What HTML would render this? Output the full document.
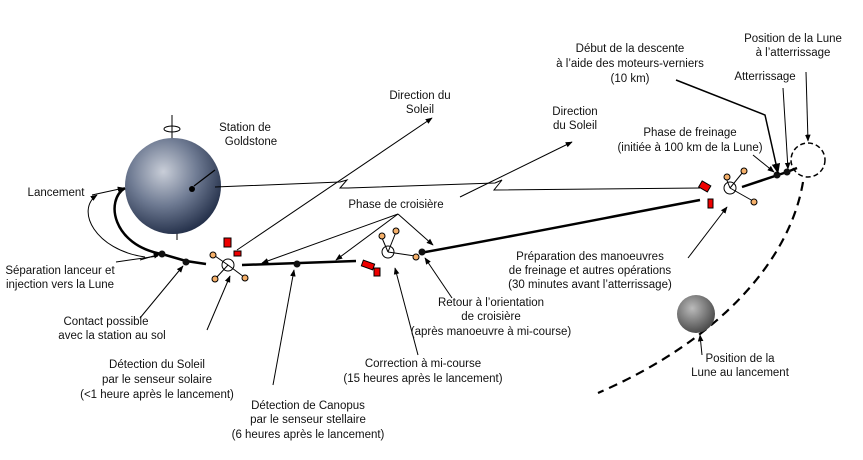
<!DOCTYPE html>
<html><head><meta charset="utf-8"><style>
body{margin:0;background:#fff;}
svg{display:block;font-family:"Liberation Sans",sans-serif;font-size:11.5px;fill:#111;}
text{text-anchor:middle;}
</style></head><body>
<svg width="863" height="460" viewBox="0 0 863 460" xmlns="http://www.w3.org/2000/svg">
<defs>
<marker id="a" viewBox="0 0 10 10" refX="9" refY="5" markerWidth="7" markerHeight="7" orient="auto"><path d="M0,1 L10,5 L0,9 z" fill="#000"/></marker>
<radialGradient id="e" cx="40%" cy="35%" r="70%"><stop offset="0" stop-color="#c9ced8"/><stop offset="0.5" stop-color="#6f7b93"/><stop offset="1" stop-color="#1e2a44"/></radialGradient>
<radialGradient id="m" cx="40%" cy="35%" r="70%"><stop offset="0" stop-color="#bbb"/><stop offset="1" stop-color="#444"/></radialGradient>
</defs>
<rect width="863" height="460" fill="#fff"/>
<line x1="172" y1="115" x2="172" y2="140" stroke="#000"/>
<line x1="177" y1="232" x2="177" y2="240" stroke="#000"/>
<ellipse cx="172" cy="129" rx="8" ry="3" fill="none" stroke="#000"/>
<circle cx="173" cy="186" r="48" fill="url(#e)"/>
<circle cx="192" cy="189" r="3" fill="#000"/>
<line x1="194" y1="186" x2="215" y2="170" stroke="#000" stroke-width="1.2"/>
<path d="M125,188 C105,200 112,245 162,254 L186,261 L206,264" fill="none" stroke="#000" stroke-width="2.5"/>
<path d="M242,265 L356,261" fill="none" stroke="#000" stroke-width="2.5"/>
<path d="M420,253 C520,235 620,215 700,200" fill="none" stroke="#000" stroke-width="2.5"/>
<path d="M742,187 L787,172 L797,168" fill="none" stroke="#000" stroke-width="2.5"/>
<circle cx="162" cy="254" r="3.5"/><circle cx="186" cy="262" r="3.5"/><circle cx="297" cy="264" r="3.5"/><circle cx="422" cy="252" r="3.5"/><circle cx="777" cy="175" r="3.5"/><circle cx="787" cy="172" r="3.5"/>
<path d="M92,195 L124,188" stroke="#000" fill="none" marker-end="url(#a)"/>
<path d="M145,257 C95,250 75,210 97,195" stroke="#000" fill="none" marker-end="url(#a)"/>
<path d="M140,260 L160,254" stroke="#000" fill="none" marker-end="url(#a)"/>
<path d="M215,187 L340,182 L347,180 L340,188 L348,188 L495,183 L502,180 L494,190 L700,188" fill="none" stroke="#000" stroke-width="1"/>
<circle cx="808" cy="160" r="17" fill="none" stroke="#000" stroke-width="1.5" stroke-dasharray="5,3"/>
<path d="M803,182 C790,260 720,340 598,393" fill="none" stroke="#000" stroke-width="2.2" stroke-dasharray="9,6"/>
<circle cx="696" cy="314" r="19" fill="url(#m)"/>
<line x1="237" y1="250" x2="432" y2="118" stroke="#000" marker-end="url(#a)"/>
<line x1="460" y1="197" x2="572" y2="142" stroke="#000" marker-end="url(#a)"/>
<line x1="398" y1="214" x2="262" y2="263" stroke="#000" marker-end="url(#a)"/>
<line x1="398" y1="214" x2="336" y2="260" stroke="#000" marker-end="url(#a)"/>
<line x1="398" y1="214" x2="433" y2="245" stroke="#000" marker-end="url(#a)"/>
<line x1="116" y1="262" x2="158" y2="256" stroke="#000"/>
<line x1="140" y1="318" x2="183" y2="266" stroke="#000" marker-end="url(#a)"/>
<line x1="207" y1="330" x2="230" y2="276" stroke="#000" marker-end="url(#a)"/>
<line x1="273" y1="385" x2="294" y2="270" stroke="#000" marker-end="url(#a)"/>
<line x1="418" y1="355" x2="395" y2="268" stroke="#000" marker-end="url(#a)"/>
<line x1="452" y1="298" x2="425" y2="258" stroke="#000" marker-end="url(#a)"/>
<line x1="688" y1="258" x2="727" y2="207" stroke="#000" marker-end="url(#a)"/>
<line x1="702" y1="355" x2="700" y2="335" stroke="#000" marker-end="url(#a)"/>
<path d="M676,80 L765,115 L778,173" fill="none" stroke="#000" stroke-width="1.5" marker-end="url(#a)"/>
<line x1="753" y1="155" x2="774" y2="172" stroke="#000" marker-end="url(#a)"/>
<line x1="783" y1="88" x2="788" y2="169" stroke="#000" marker-end="url(#a)"/>
<line x1="806" y1="72" x2="808" y2="141" stroke="#000" marker-end="url(#a)"/>
<g stroke="#000" stroke-width="1">
<rect x="224" y="238" width="7" height="9" fill="#e00"/><rect x="234" y="251" width="7" height="5" fill="#e00"/>
<circle cx="228" cy="265" r="6" fill="#fff"/>
<line x1="228" y1="265" x2="215" y2="256"/><line x1="228" y1="265" x2="244" y2="277"/><line x1="228" y1="265" x2="216" y2="278"/>
<circle cx="213" cy="255" r="3" fill="#f5b06a"/><circle cx="245" cy="278" r="3" fill="#f5b06a"/><circle cx="215" cy="279" r="3" fill="#f5b06a"/>
<rect x="362" y="262" width="12" height="6" fill="#e00" transform="rotate(20 368 265)"/><rect x="374" y="268" width="6" height="8" fill="#e00"/>
<circle cx="388" cy="252" r="6" fill="#fff"/>
<line x1="388" y1="252" x2="396" y2="232"/><line x1="388" y1="252" x2="415" y2="256"/><line x1="388" y1="252" x2="382" y2="238"/>
<circle cx="396" cy="231" r="3" fill="#f5b06a"/><circle cx="416" cy="257" r="3" fill="#f5b06a"/><circle cx="382" cy="236" r="3" fill="#f5b06a"/>
<rect x="700" y="183" width="10" height="7" fill="#e00" transform="rotate(30 705 186)"/><rect x="708" y="199" width="5" height="9" fill="#e00"/>
<circle cx="730" cy="188" r="6" fill="#fff"/>
<line x1="730" y1="188" x2="743" y2="172"/><line x1="730" y1="188" x2="753" y2="201"/><line x1="730" y1="188" x2="726" y2="178"/>
<circle cx="744" cy="171" r="3" fill="#f5b06a"/><circle cx="754" cy="202" r="3" fill="#f5b06a"/><circle cx="727" cy="177" r="3" fill="#f5b06a"/>
</g>
<text x="245" y="131">Station de</text><text x="251" y="145">Goldstone</text>
<text x="56" y="196">Lancement</text>
<text x="60" y="274">Séparation lanceur et</text><text x="60" y="288">injection vers la Lune</text>
<text x="106" y="325">Contact possible</text><text x="112" y="339">avec la station au sol</text>
<text x="157" y="368">Détection du Soleil</text><text x="157" y="383">par le senseur solaire</text><text x="157" y="398">(&lt;1 heure après le lancement)</text>
<text x="308" y="409">Détection de Canopus</text><text x="308" y="423">par le senseur stellaire</text><text x="308" y="438">(6 heures après le lancement)</text>
<text x="423" y="367">Correction à mi-course</text><text x="423" y="382">(15 heures après le lancement)</text>
<text x="491" y="306">Retour à l’orientation</text><text x="491" y="320">de croisière</text><text x="491" y="335">(après manoeuvre à mi-course)</text>
<text x="396" y="208">Phase de croisière</text>
<text x="420" y="99">Direction du</text><text x="420" y="113">Soleil</text>
<text x="575" y="115">Direction</text><text x="575" y="129">du Soleil</text>
<text x="590" y="260">Préparation des manoeuvres</text><text x="590" y="274">de freinage et autres opérations</text><text x="590" y="288">(30 minutes avant l’atterrissage)</text>
<text x="690" y="136">Phase de freinage</text><text x="690" y="151">(initiée à 100 km de la Lune)</text>
<text x="630" y="52">Début de la descente</text><text x="630" y="67">à l’aide des moteurs-verniers</text><text x="630" y="82">(10 km)</text>
<text x="793" y="42">Position de la Lune</text><text x="793" y="56">à l’atterrissage</text>
<text x="765" y="80">Atterrissage</text>
<text x="740" y="362">Position de la</text><text x="740" y="376">Lune au lancement</text>
</svg>
</body></html>
